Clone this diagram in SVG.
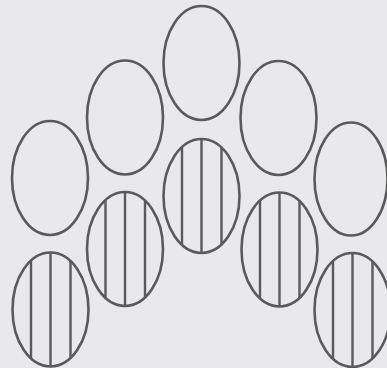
<svg xmlns="http://www.w3.org/2000/svg" xmlns:xlink="http://www.w3.org/1999/xlink" width="387" height="368" viewBox="0 0 387 368">
<style>
.o{fill:none;stroke:#5a5a5a;stroke-width:2.6}
.s{stroke:#5a5a5a;stroke-width:2.4}
</style>
<defs>
<g id="plain"><ellipse class="o" cx="0" cy="0" rx="38" ry="57"/></g>
<g id="striped">
<ellipse class="o" cx="0" cy="0" rx="38" ry="57"/>
<line class="s" x1="-19.5" y1="-49" x2="-19.5" y2="49"/>
<line class="s" x1="0" y1="-57" x2="0" y2="57"/>
<line class="s" x1="20" y1="-48.5" x2="20" y2="48.5"/>
</g>
</defs>
<rect width="387" height="368" fill="#e9e9eb"/>
<g id="top1"><use xlink:href="#plain" x="50" y="178"/></g>
<g id="top2"><use xlink:href="#plain" x="125" y="117.5"/></g>
<g id="top3"><use xlink:href="#plain" x="201.5" y="63"/></g>
<g id="top4"><use xlink:href="#plain" x="278.5" y="118"/></g>
<g id="top5"><ellipse class="o" cx="351" cy="179" rx="36.5" ry="56.5"/></g>
<g id="bot1"><use xlink:href="#striped" x="50.5" y="309.5"/></g>
<g id="bot2"><use xlink:href="#striped" x="125" y="249"/></g>
<g id="bot3"><use xlink:href="#striped" x="201.5" y="196"/></g>
<g id="bot4"><use xlink:href="#striped" x="279.5" y="249.5"/></g>
<g id="bot5"><use xlink:href="#striped" x="352.5" y="310"/></g>
<g id="connectors"/>
</svg>
